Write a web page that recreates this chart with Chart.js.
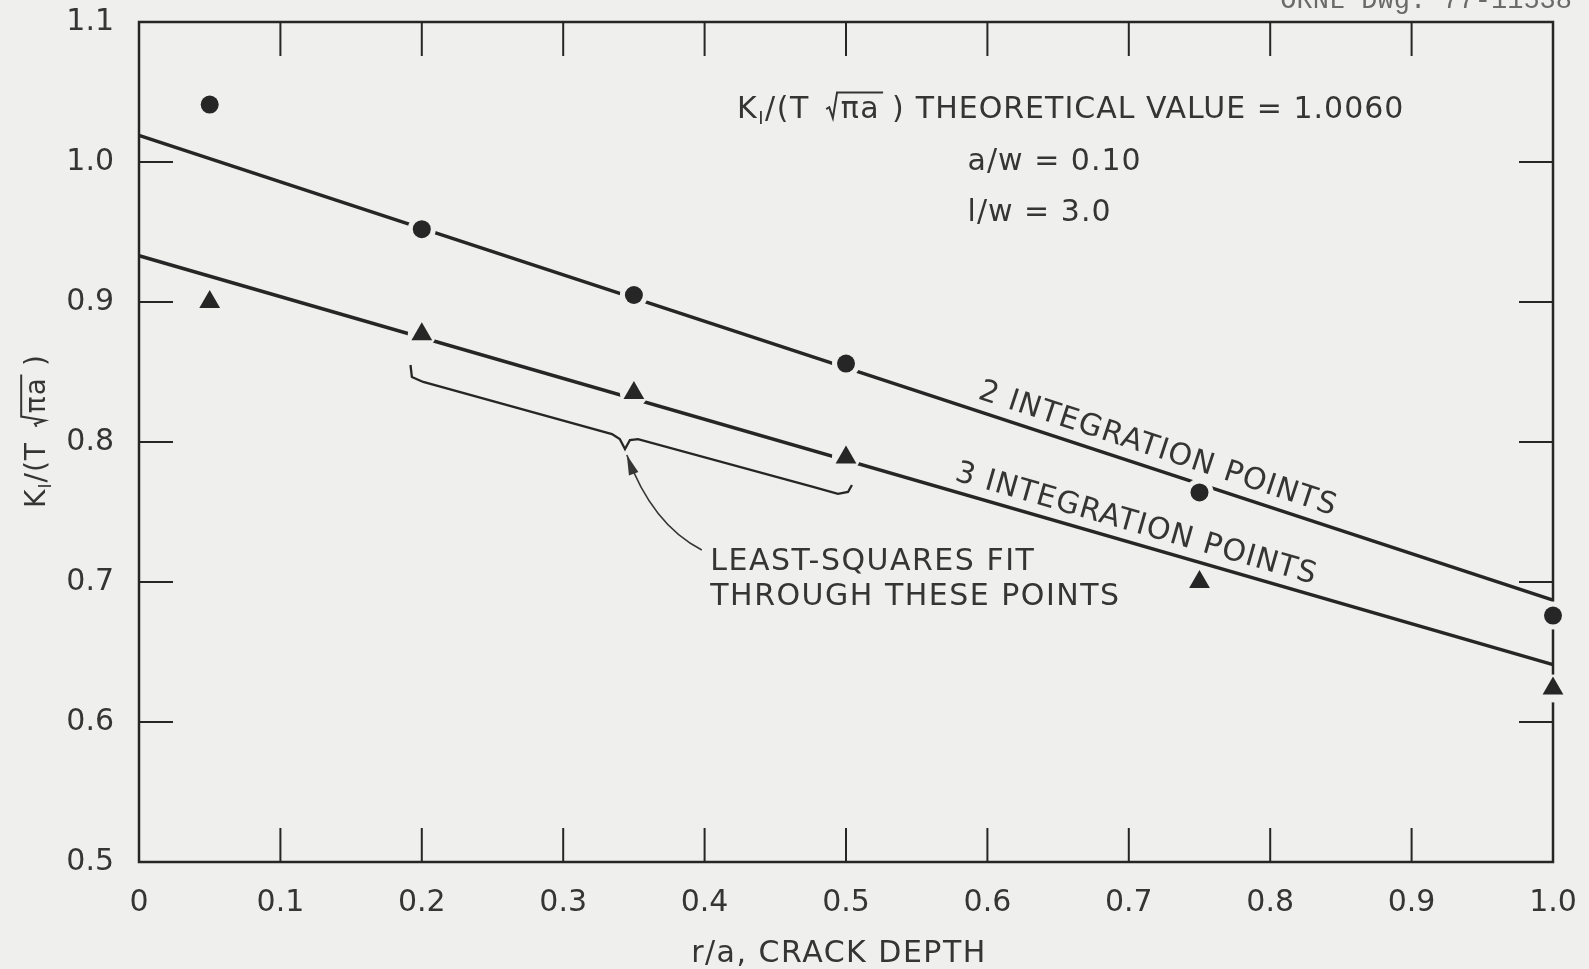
<!DOCTYPE html>
<html>
<head>
<meta charset="utf-8">
<script src="https://cdn.jsdelivr.net/npm/chart.js@4.4.0/dist/chart.umd.min.js"></script>
<style>
  html, body { margin: 0; padding: 0; background: #efefed; }
  #wrap { width: 1589px; height: 969px; }
</style>
</head>
<body>
<div id="wrap"><canvas id="kChart" width="1589" height="969"></canvas></div>
<script>
// r/a positions of the computed points
const crackDepth = [0.05, 0.2, 0.35, 0.5, 0.75, 1.0];
const twoPointValues = [1.041, 0.952, 0.905, 0.856, 0.764, 0.676];
const threePointValues = [0.900, 0.877, 0.835, 0.789, 0.700, 0.624];

// least-squares lines, read where they meet r/a = 0 and r/a = 1.0
const fitEnds = [0, 1.0];
const twoPointFit = [1.019, 0.687];
const threePointFit = [0.933, 0.641];

// bracket under the three points used for the fit
const bracketX = [0.192, 0.193, 0.201, 0.3345, 0.340, 0.3437, 0.3472, 0.3529, 0.4767, 0.4943, 0.5014, 0.5042];
const bracketY = [0.855, 0.8464, 0.8429, 0.8057, 0.8021, 0.795, 0.8014, 0.8021, 0.7679, 0.7629, 0.7643, 0.7693];

const xTicks = [0, 0.1, 0.2, 0.3, 0.4, 0.5, 0.6, 0.7, 0.8, 0.9, 1.0];
const xTickLabels = ['0', '0.1', '0.2', '0.3', '0.4', '0.5', '0.6', '0.7', '0.8', '0.9', '1.0'];
const yTicks = [0.5, 0.6, 0.7, 0.8, 0.9, 1.0, 1.1];
const yTickLabels = ['0.5', '0.6', '0.7', '0.8', '0.9', '1.0', '1.1'];

const PAPER = '#efefed';
const INK = '#262626';
const TEXT = '#353535';
const FONT = '"DejaVu Sans"';

const pts = (xs, ys) => xs.map((v, i) => ({ x: v, y: ys[i] }));

// K_I/(T sqrt(pi a)) with the radical drawn by hand; returns its width
function kLabel(ctx, x, y, size, draw) {
    const main = `${size}px ${FONT}`;
    const sub = `${Math.round(size * 0.6)}px ${FONT}`;
    let cx = x;
    const put = (t, f, dy) => {
        ctx.font = f;
        if (draw) ctx.fillText(t, cx, y + dy);
        cx += ctx.measureText(t).width;
    };
    put('K', main, 0);
    put('I', sub, size * 0.2);
    put('/(T', main, 0);
    cx += size * 0.55;
    ctx.font = main;
    const wpa = ctx.measureText('πa').width;
    const r0 = cx;
    if (draw) {
        ctx.beginPath();
        ctx.moveTo(r0, y - size * 0.3);
        ctx.lineTo(r0 + size * 0.1, y - size * 0.36);
        ctx.lineTo(r0 + size * 0.22, y);
        ctx.lineTo(r0 + size * 0.36, y - size * 0.85);
        ctx.lineTo(r0 + size * 0.48 + wpa + size * 0.1, y - size * 0.85);
        ctx.stroke();
    }
    cx = r0 + size * 0.48;
    put('πa', main, 0);
    cx += size * 0.4;
    put(')', main, 0);
    return cx - x;
}

const frame = {
    id: 'frame',
    beforeDraw(chart) {
        const { ctx } = chart;
        ctx.save();
        ctx.fillStyle = PAPER;
        ctx.fillRect(0, 0, chart.width, chart.height);
        ctx.restore();
    },
    beforeDatasetsDraw(chart) {
        const { ctx, chartArea: a, scales: { x, y } } = chart;
        const len = 34;
        ctx.save();
        ctx.strokeStyle = INK;
        ctx.lineWidth = 2.5;
        ctx.strokeRect(a.left, a.top, a.right - a.left, a.bottom - a.top);
        ctx.lineWidth = 2;
        ctx.beginPath();
        xTicks.slice(1, -1).forEach(v => {
            const px = x.getPixelForValue(v);
            ctx.moveTo(px, a.bottom); ctx.lineTo(px, a.bottom - len);
            ctx.moveTo(px, a.top); ctx.lineTo(px, a.top + len);
        });
        yTicks.slice(1, -1).forEach(v => {
            const py = y.getPixelForValue(v);
            ctx.moveTo(a.left, py); ctx.lineTo(a.left + len, py);
            ctx.moveTo(a.right, py); ctx.lineTo(a.right - len, py);
        });
        ctx.stroke();
        ctx.restore();
    },
    afterDatasetsDraw(chart) {
        const { ctx, chartArea: a, scales: { x, y } } = chart;
        const P = (vx, vy) => [x.getPixelForValue(vx), y.getPixelForValue(vy)];
        ctx.save();
        ctx.fillStyle = TEXT;
        ctx.strokeStyle = TEXT;
        ctx.lineWidth = 2;
        ctx.textBaseline = 'alphabetic';
        ctx.letterSpacing = '1.5px';

        // header notes
        let [hx, hy] = P(0.423, 1.0314);
        const kw = kLabel(ctx, hx, hy, 30, true);
        ctx.letterSpacing = '1px';
        ctx.font = `30px ${FONT}`;
        ctx.fillText(' THEORETICAL VALUE = 1.0060', hx + kw, hy);
        [hx, hy] = P(0.586, 0.9943);
        ctx.fillText('a/w = 0.10', hx, hy);
        [hx, hy] = P(0.586, 0.958);
        ctx.fillText('l/w = 3.0', hx, hy);

        // labels laid along the fit lines
        const along = (ys, at, text, lift) => {
            const [x0, y0] = P(fitEnds[0], ys[0]);
            const [x1, y1] = P(fitEnds[1], ys[1]);
            const ang = Math.atan2(y1 - y0, x1 - x0);
            const [sx, sy] = P(at, ys[0] + (ys[1] - ys[0]) * at);
            ctx.save();
            ctx.translate(sx, sy);
            ctx.rotate(ang);
            ctx.fillText(text, 0, -lift);
            ctx.restore();
        };
        ctx.letterSpacing = '1.2px';
        along(twoPointFit, 0.59, '2 INTEGRATION POINTS', 12);
        along(threePointFit, 0.574, '3 INTEGRATION POINTS', 11);

        ctx.letterSpacing = '1.5px';
        [hx, hy] = P(0.404, 0.7086);
        ctx.fillText('LEAST-SQUARES FIT', hx, hy);
        [hx, hy] = P(0.404, 0.6836);
        ctx.fillText('THROUGH THESE POINTS', hx, hy);

        // curved arrow from the note up to the bracket
        const [tx, ty] = P(0.398, 0.7229);
        const [cx, cy] = P(0.3628, 0.7411);
        const [ex, ey] = P(0.345, 0.7907);
        ctx.lineWidth = 1.6;
        ctx.beginPath();
        ctx.moveTo(tx, ty);
        ctx.quadraticCurveTo(cx, cy, ex, ey);
        ctx.stroke();
        const ang = Math.atan2(ey - cy, ex - cx);
        ctx.beginPath();
        ctx.moveTo(ex, ey);
        ctx.lineTo(ex - 20 * Math.cos(ang) + 5 * Math.sin(ang), ey - 20 * Math.sin(ang) - 5 * Math.cos(ang));
        ctx.lineTo(ex - 20 * Math.cos(ang) - 5 * Math.sin(ang), ey - 20 * Math.sin(ang) + 5 * Math.cos(ang));
        ctx.closePath();
        ctx.fill();

        // axis titles
        ctx.font = `30px ${FONT}`;
        ctx.textAlign = 'center';
        ctx.fillText('r/a, CRACK DEPTH', (a.left + a.right) / 2 - 7, 962);
        ctx.textAlign = 'left';
        ctx.letterSpacing = '1px';
        ctx.lineWidth = 2;
        ctx.save();
        ctx.translate(34, (a.top + a.bottom) / 2 - 11);
        ctx.rotate(-Math.PI / 2);
        const tw = kLabel(ctx, 0, 0, 28, false);
        kLabel(ctx, -tw / 2, 11, 28, true);
        ctx.restore();

        // drawing number, cut off by the top edge of the scan
        ctx.letterSpacing = '0px';
        ctx.font = '27px "Liberation Mono"';
        ctx.fillStyle = '#6a6a6a';
        ctx.textAlign = 'right';
        ctx.fillText('ORNL Dwg. 77-11538', 1572, 8);
        ctx.restore();
    }
};

const KChart = {
    init() {
        const ctx = document.getElementById('kChart').getContext('2d');
        this.chart = new Chart(ctx, {
            type: 'scatter',
            data: { datasets: this.datasets() },
            options: this.options(),
            plugins: [frame]
        });
    },

    datasets() {
        const line = { showLine: true, borderColor: INK, pointRadius: 0, clip: false, order: 3 };
        const gap = { showLine: false, pointBackgroundColor: PAPER, pointBorderWidth: 0, pointRadius: 14, clip: false, order: 2 };
        const mark = { showLine: false, pointBackgroundColor: INK, pointBorderWidth: 0, clip: false, order: 1 };
        return [
            { ...line, label: '2 points fit', data: pts(fitEnds, twoPointFit), borderWidth: 3.5 },
            { ...line, label: '3 points fit', data: pts(fitEnds, threePointFit), borderWidth: 3.5 },
            { ...line, label: 'bracket', data: pts(bracketX, bracketY), borderWidth: 2.3 },
            { ...gap, label: 'gap 2', data: pts(crackDepth, twoPointValues) },
            { ...gap, label: 'gap 3', data: pts(crackDepth, threePointValues) },
            { ...mark, label: '2 INTEGRATION POINTS', data: pts(crackDepth, twoPointValues), pointStyle: 'circle', pointRadius: 9 },
            { ...mark, label: '3 INTEGRATION POINTS', data: pts(crackDepth, threePointValues), pointStyle: 'triangle', pointRadius: 12 }
        ];
    },

    options() {
        const tickFont = { family: 'DejaVu Sans', size: 30 };
        return {
            responsive: false,
            devicePixelRatio: 1,
            animation: false,
            events: [],
            layout: { padding: { top: 22, right: 36, left: 0, bottom: 0 } },
            plugins: { legend: { display: false }, tooltip: { enabled: false } },
            scales: {
                x: {
                    type: 'linear', min: 0, max: 1,
                    grid: { display: false, drawTicks: false }, border: { display: false },
                    afterBuildTicks: s => { s.ticks = xTicks.map(v => ({ value: v })); },
                    afterFit: s => { s.height = 107; s.paddingLeft = 0; s.paddingRight = 0; },
                    ticks: { color: TEXT, font: tickFont, padding: 23, maxRotation: 0, autoSkip: false,
                        callback: (v, i) => xTickLabels[i] }
                },
                y: {
                    type: 'linear', min: 0.5, max: 1.1,
                    grid: { display: false, drawTicks: false }, border: { display: false },
                    afterBuildTicks: s => { s.ticks = yTicks.map(v => ({ value: v })); },
                    afterFit: s => { s.width = 139; s.paddingTop = 0; s.paddingBottom = 0; },
                    ticks: { color: TEXT, font: tickFont, padding: 25, autoSkip: false,
                        callback: (v, i) => yTickLabels[i] }
                }
            }
        };
    }
};

document.addEventListener('DOMContentLoaded', () => KChart.init());
</script>
</body>
</html>
